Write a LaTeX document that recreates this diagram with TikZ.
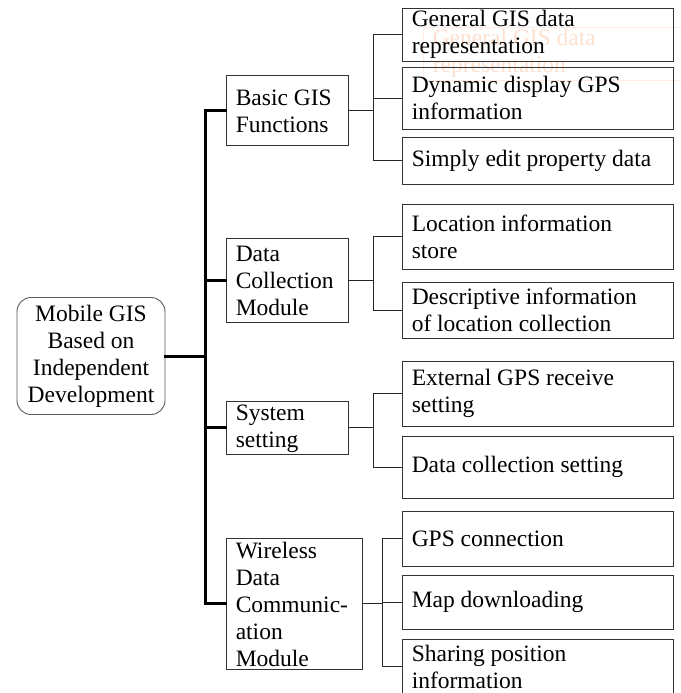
\documentclass[tikz,border=0pt]{standalone}
\usepackage{fontspec}
\setmainfont{Liberation Serif}
\definecolor{ghosttext}{RGB}{252,225,208}
\definecolor{ghostline}{RGB}{253,237,226}
\begin{document}
\begin{tikzpicture}[x=1pt,y=-1pt,
  box/.style={draw=black!80, line width=0.9pt, rectangle, inner sep=0pt},
  rootbox/.style={draw=black!65, line width=0.9pt, rectangle, rounded corners=14pt,
    inner sep=0pt, align=center, font=\fontsize{23.5}{27}\selectfont},
  lbl/.style={inner sep=0pt, align=left, anchor=west, font=\fontsize{23.5}{27}\selectfont},
  trunkline/.style={line width=3pt, line cap=rect},
  branchline/.style={line width=1pt, black!85},
]
\useasboundingbox (0,0) rectangle (680,693);

% faint duplicate of the first leaf box
\node[box, draw=ghostline, minimum width=271pt, minimum height=53pt] (ghost) at (558.5,53.5) {};
\node[lbl, text=ghosttext] (ghostt) at ([xshift=10pt]ghost.west) {General GIS data\\representation};

% root
\node[rootbox, minimum width=148pt, minimum height=117pt] (root) at (91,356)
  {Mobile GIS\\Based on\\Independent\\Development};

% first level
\node[box, minimum width=122pt, minimum height=70pt] (m1) at (287,110) {};
\node[lbl] (m1t) at ([xshift=10pt,yshift=-1pt]m1.west) {Basic GIS\\Functions};
\node[box, minimum width=122pt, minimum height=84pt] (m2) at (287,280) {};
\node[lbl] (m2t) at ([xshift=10pt,yshift=-1pt]m2.west) {Data\\Collection\\Module};
\node[box, minimum width=122pt, minimum height=53pt] (m3) at (287,427.5) {};
\node[lbl] (m3t) at ([xshift=10pt,yshift=-1pt]m3.west) {System\\setting};
\node[box, minimum width=136pt, minimum height=131pt] (m4) at (294,603.5) {};
\node[lbl] (m4t) at ([xshift=10pt,yshift=-1pt]m4.west) {Wireless\\Data\\Communic-\\ation\\Module};

% second level
\node[box, minimum width=271pt, minimum height=53pt] (a1) at (537.5,34.5) {};
\node[lbl] (a1t) at ([xshift=10pt]a1.west) {General GIS data\\representation};
\node[box, minimum width=271pt, minimum height=62pt] (a2) at (537.5,98) {};
\node[lbl] (a2t) at ([xshift=10pt]a2.west) {Dynamic display GPS\\information};
\node[box, minimum width=271pt, minimum height=47pt] (a3) at (537.5,160.5) {};
\node[lbl] (a3t) at ([xshift=10pt]a3.west) {Simply edit property data};

\node[box, minimum width=271pt, minimum height=65pt] (b1) at (537.5,236.5) {};
\node[lbl] (b1t) at ([xshift=10pt]b1.west) {Location information\\store};
\node[box, minimum width=271pt, minimum height=56pt] (b2) at (537.5,310) {};
\node[lbl] (b2t) at ([xshift=10pt]b2.west) {Descriptive information\\of location collection};

\node[box, minimum width=271pt, minimum height=65pt] (c1) at (537.5,393.5) {};
\node[lbl] (c1t) at ([xshift=10pt]c1.west) {External GPS receive\\setting};
\node[box, minimum width=271pt, minimum height=62pt] (c2) at (537.5,467) {};
\node[lbl] (c2t) at ([xshift=10pt]c2.west) {Data collection setting};

\node[box, minimum width=271pt, minimum height=55pt] (d1) at (537.5,538.5) {};
\node[lbl] (d1t) at ([xshift=10pt]d1.west) {GPS connection};
\node[box, minimum width=271pt, minimum height=54pt] (d2) at (537.5,602) {};
\node[lbl] (d2t) at ([xshift=10pt]d2.west) {Map downloading};
\node[box, minimum width=271pt, minimum height=55pt] (d3) at (537.5,666.5) {};
\node[lbl] (d3t) at ([xshift=10pt]d3.west) {Sharing position\\information};

% junction points
\coordinate (trunk) at (205,356);
\coordinate (ja) at (373,110);
\coordinate (jb) at (373,280);
\coordinate (jc) at (373,427.5);
\coordinate (jd) at (382,603.5);

% main tree
\draw[trunkline] (root.east) -- (trunk);
\draw[trunkline] (m1.west) -| (trunk);
\draw[trunkline] (m4.west) -| (trunk);
\draw[trunkline] (m2.west) -- (m2.west -| trunk);
\draw[trunkline] (m3.west) -- (m3.west -| trunk);

% sub-branches
\draw[branchline] (m1.east) -- (ja);
\draw[branchline] (a1.west) -| (ja);
\draw[branchline] (a3.west) -| (ja);
\draw[branchline] (a2.west) -- (a2.west -| ja);

\draw[branchline] (m2.east) -- (jb);
\draw[branchline] (b1.west) -| (jb);
\draw[branchline] (b2.west) -| (jb);

\draw[branchline] (m3.east) -- (jc);
\draw[branchline] (c1.west) -| (jc);
\draw[branchline] (c2.west) -| (jc);

\draw[branchline] (m4.east) -- (jd);
\draw[branchline] (d1.west) -| (jd);
\draw[branchline] (d3.west) -| (jd);
\draw[branchline] (d2.west) -- (d2.west -| jd);
\end{tikzpicture}
\end{document}
